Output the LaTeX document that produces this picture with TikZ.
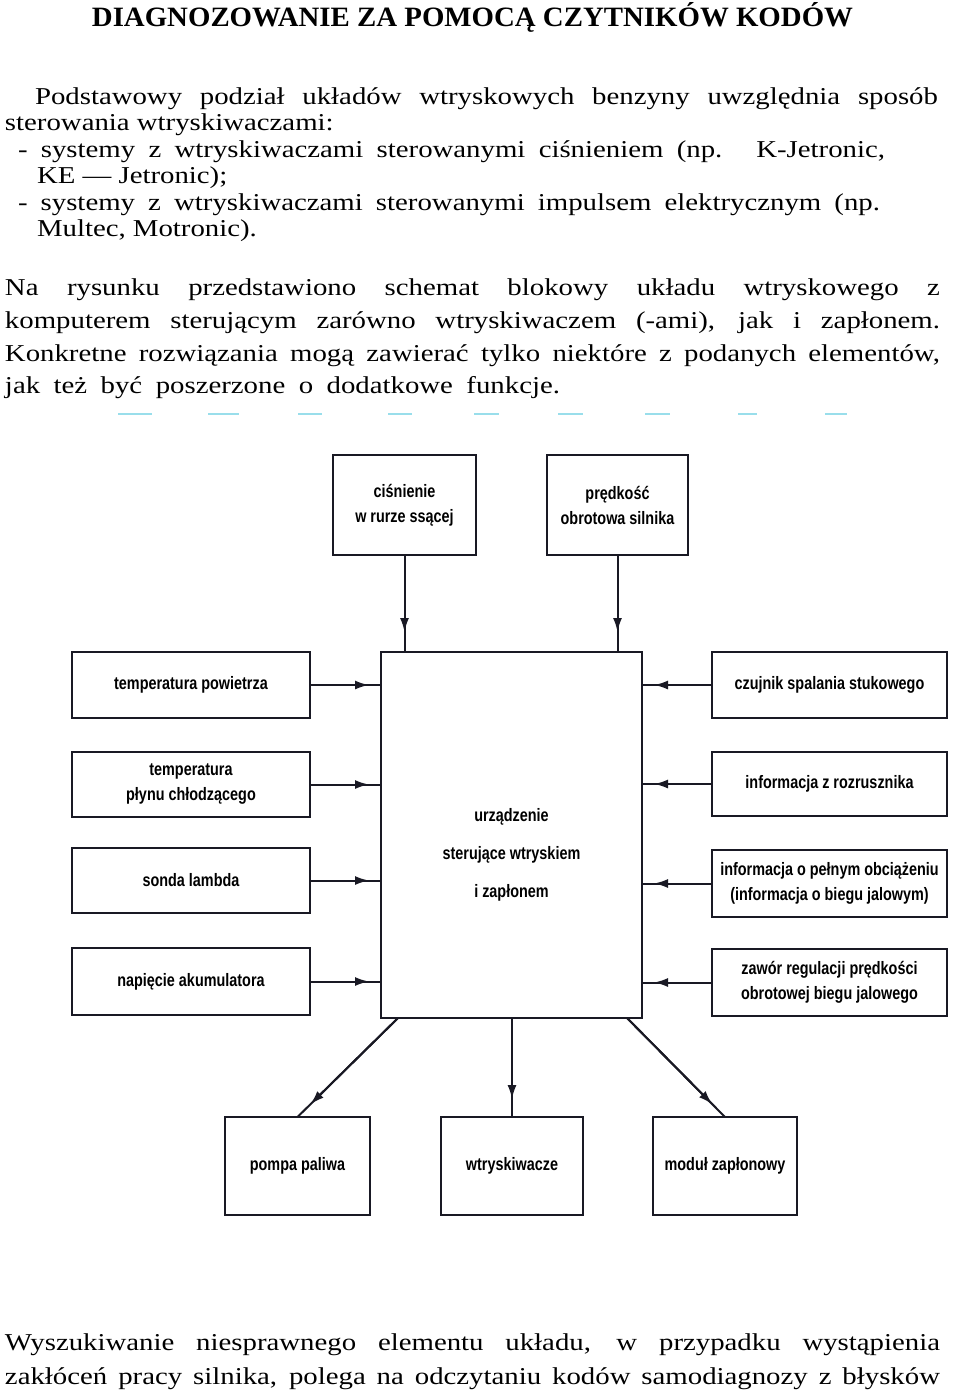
\documentclass[tikz,border=0pt]{standalone}
\usepackage{fontspec}
\setmainfont{Liberation Serif}
\newfontfamily\bodyfont{Liberation Serif}[FakeStretch=1.19]
\newfontfamily\titlefont{Liberation Serif}[FakeStretch=1.03]
\newfontfamily\boxfont{Liberation Sans}[FakeStretch=0.8]
\usetikzlibrary{arrows.meta,calc}
\definecolor{boxcol}{rgb}{0.1,0.1,0.14}
\definecolor{scancyan}{rgb}{0.6,0.87,0.92}
\newcommand{\jline}[2]{\makebox[#1][s]{#2}}
\begin{document}
\begin{tikzpicture}[x=1pt,y=-1pt,
  txt/.style={anchor=base west, inner sep=0pt, outer sep=0pt, font=\bodyfont\fontsize{24.2}{26}\selectfont},
  blk/.style={draw=boxcol, line width=2.2pt, inner sep=2pt, outer sep=0pt, align=center, fill=white,
    font=\boxfont\bfseries\fontsize{18}{25}\selectfont},
  conn/.style={draw=boxcol, line width=2pt},
  tip/.style={conn, -{Latex[length=14pt,width=9pt]}}
]
\fill[white] (0,0) rectangle (960,1392);
\useasboundingbox (0,0) rectangle (960,1392);

% title
\node[anchor=base, inner sep=0pt, font=\titlefont\bfseries\fontsize{28}{30}\selectfont] (title) at (472.5,27)
  {DIAGNOZOWANIE ZA POMOCĄ CZYTNIKÓW KODÓW};

% paragraph 1
\node[txt] (p1a) at (35,104) {\jline{903pt}{Podstawowy podział układów wtryskowych benzyny uwzględnia sposób}};
\node[txt] (p1b) at (5,130) {sterowania wtryskiwaczami:};
\node[txt] (p1c) at (18,157) {\jline{867pt}{- systemy z wtryskiwaczami sterowanymi ciśnieniem (np.\hspace{6pt} K-Jetronic,}};
\node[txt] (p1d) at (37,183) {KE — Jetronic);};
\node[txt] (p1e) at (18,210) {\jline{862pt}{- systemy z wtryskiwaczami sterowanymi impulsem elektrycznym (np.}};
\node[txt] (p1f) at (37,236) {Multec, Motronic).};

% paragraph 2
\node[txt] (p2a) at (5,295) {\jline{935pt}{Na rysunku przedstawiono schemat blokowy układu wtryskowego z}};
\node[txt] (p2b) at (5,328) {\jline{935pt}{komputerem sterującym zarówno wtryskiwaczem (-ami), jak i zapłonem.}};
\node[txt] (p2c) at (5,361) {\jline{935pt}{Konkretne rozwiązania mogą zawierać tylko niektóre z podanych elementów,}};
\node[txt] (p2d) at (5,393) {\jline{555pt}{jak też być poszerzone o dodatkowe funkcje.}};

% scan dashes
\foreach \a/\b in {118/152,208/239,298/322,388/412,474/499,558/583,645/670,738/757,825/847}
  \draw[scancyan, line width=2pt] (\a,414) -- (\b,414);

% diagram boxes
\node[blk, minimum width=143pt, minimum height=100pt] (T1) at (404.5,505) {ciśnienie\\w rurze ssącej};
\node[blk, minimum width=141pt, minimum height=100pt] (T2) at (617.5,505) {prędkość\\obrotowa silnika};

\node[blk, minimum width=261pt, minimum height=366pt] (C) at (511.5,835) {};
\node[inner sep=0pt, align=center, font=\boxfont\bfseries\fontsize{18}{38}\selectfont] (ctext) at (511.5,855)
  {urządzenie\\sterujące wtryskiem\\i zapłonem};

\node[blk, minimum width=238pt, minimum height=66pt] (L1) at (191,685) {temperatura powietrza};
\node[blk, minimum width=238pt, minimum height=65pt] (L2) at (191,784.5) {temperatura\\płynu chłodzącego};
\node[blk, minimum width=238pt, minimum height=65pt] (L3) at (191,880.5) {sonda lambda};
\node[blk, minimum width=238pt, minimum height=67pt] (L4) at (191,981.5) {napięcie akumulatora};

\node[blk, minimum width=235pt, minimum height=66pt] (R1) at (829.5,685) {czujnik spalania stukowego};
\node[blk, minimum width=235pt, minimum height=64pt] (R2) at (829.5,784) {informacja z rozrusznika};
\node[blk, minimum width=235pt, minimum height=67pt] (R3) at (829.5,883.5) {informacja o pełnym obciążeniu\\(informacja o biegu jalowym)};
\node[blk, minimum width=235pt, minimum height=67pt] (R4) at (829.5,982.5) {zawór regulacji prędkości\\obrotowej biegu jalowego};

\node[blk, minimum width=145pt, minimum height=98pt] (B1) at (297.5,1166) {pompa paliwa};
\node[blk, minimum width=142pt, minimum height=98pt] (B2) at (512,1166) {wtryskiwacze};
\node[blk, minimum width=144pt, minimum height=98pt] (B3) at (725,1166) {moduł zapłonowy};

% top connectors
\foreach \n in {T1,T2} {
  \draw[conn] (\n.south) -- (\n.south |- C.north);
  \draw[tip] (\n.south) -- ($(\n.south |- C.north)+(0,-20)$);
}
% left connectors
\foreach \n in {L1,L2,L3,L4} {
  \draw[conn] (\n.east) -- (\n.east -| C.west);
  \draw[tip] (\n.east) -- ($(\n.east -| C.west)+(-12,0)$);
}
% right connectors
\foreach \n in {R1,R2,R3,R4} {
  \draw[conn] (\n.west) -- (\n.west -| C.east);
  \draw[tip] (\n.west) -- ($(\n.west -| C.east)+(12,0)$);
}
% bottom connectors
\coordinate (cbl) at ($(C.south west)+(17,0)$);
\coordinate (cbm) at (B2.north |- C.south);
\coordinate (cbr) at ($(C.south east)+(-15,0)$);
\draw[conn] (cbl) -- (B1.north);
\draw[tip] (cbl) -- ($(B1.north)!18pt!(cbl)$);
\draw[conn] (cbm) -- (B2.north);
\draw[tip] (cbm) -- ($(B2.north)!18pt!(cbm)$);
\draw[conn] (cbr) -- (B3.north);
\draw[tip] (cbr) -- ($(B3.north)!18pt!(cbr)$);

% bottom paragraph
\node[txt] (p3a) at (5,1350) {\jline{935pt}{Wyszukiwanie niesprawnego elementu układu, w przypadku wystąpienia}};
\node[txt] (p3b) at (5,1384) {\jline{935pt}{zakłóceń pracy silnika, polega na odczytaniu kodów samodiagnozy z błysków}};
\end{tikzpicture}
\end{document}
